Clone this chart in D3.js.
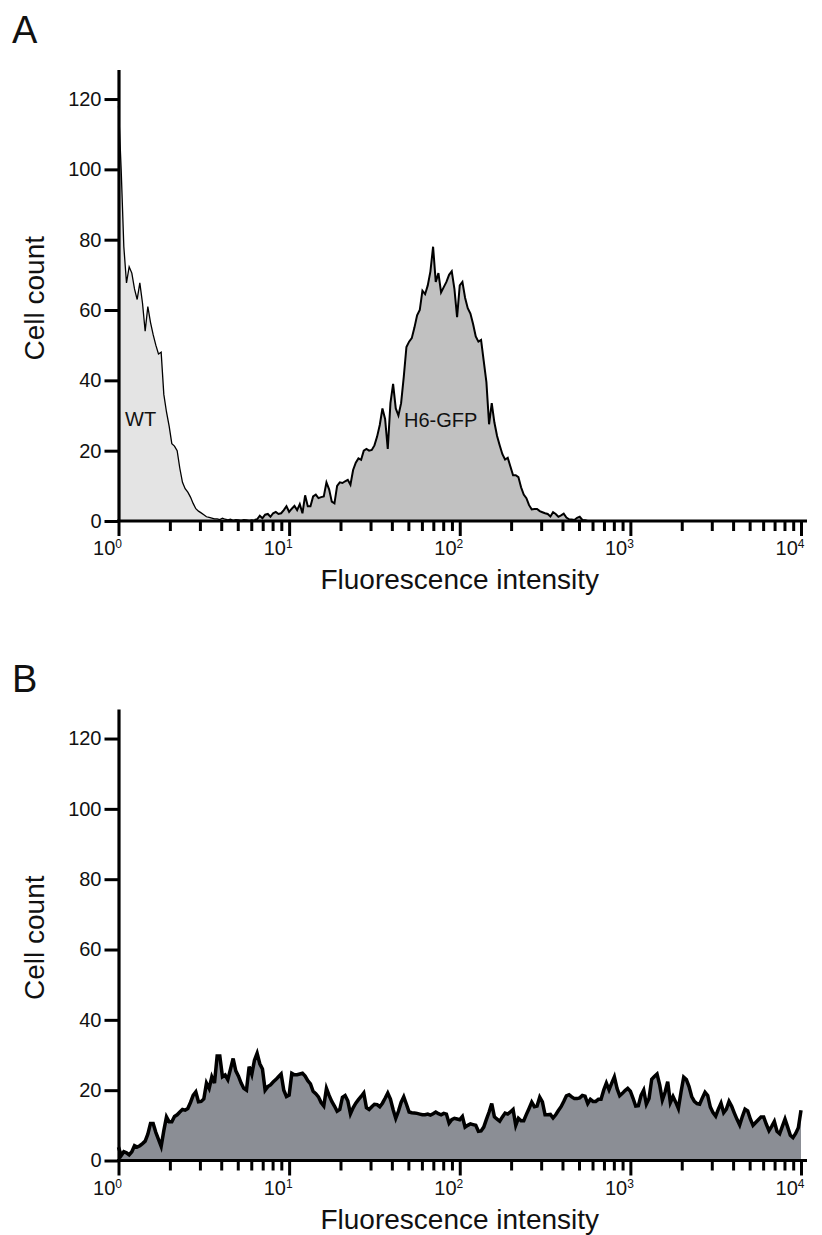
<!DOCTYPE html>
<html><head><meta charset="utf-8">
<script src="https://cdn.jsdelivr.net/npm/d3@7"></script>
<style>
body{margin:0;background:#fff}
text{font-family:"Liberation Sans",Arial,Helvetica,sans-serif;fill:#111}
</style>
</head><body>
<svg id="chart" width="822" height="1235"></svg>
<script>
// ---------- data ----------
const channelsPerDecade = 64;               // 256 channels over 4 decades
const xDomain = [1, 10000];
const yTicks = [0, 20, 40, 60, 80, 100, 120];
const xMajorTicks = [1, 10, 100, 1000, 10000];
const xTickExponents = ["0", "1", "2", "3", "4"];
const panelLabels = ["A", "B"];
const seriesNames = ["WT", "H6-GFP"];
const xTitle = "Fluorescence intensity";
const yTitle = "Cell count";

// Panel A, WT histogram (counts from channel wtStart)
const wtStart = 0;
const wtCounts = [118,100,78,67.7,72.3,70.5,66,63,67.7,62,
  54,61,56.5,53,50,47.5,48,36,31,27,
  22,21.3,20,15,11,9.2,8.2,6.8,5,3.5,
  2.8,2.3,1.8,1.2,1,0.8,0.6,0.6,0.4,0.8,
  0.5,0.3,0.5,0.2,0.4,0.3,0.2,0.4,0.3,0.2,
  0.3,0.2,0];

// Panel A, H6-GFP histogram
const gfpStart = 51;
const gfpCounts = [0.3,0.5,1.5,0.8,1.8,2,1.2,2.2,2.6,2,
  2.2,3.1,4.2,2.6,3.5,4.3,3.1,4.8,2.2,7.3,
  4.2,4.2,7,7.5,6.5,6.8,7,11,9,5.5,
  5,10,11,10.8,11.3,11.7,10.3,14.5,16.6,17.8,
  17.4,20,20.5,20,20.2,21.5,24,27.3,32,29,
  20.5,33.5,39,32,30,33.5,41,49.5,51,52,
  55,58.5,60,65.5,64.5,67,71,78,68,70.5,
  65,66.5,68,70,71,66,58,67,68,63.5,
  60.5,59,56,52.5,51,51.5,45.5,39.5,27.5,33.5,
  28,24.2,21.5,19,17.5,18,15.5,13,13,12.5,
  9.6,7.5,6.5,4.5,3.3,3.4,3.4,2.8,2.5,2.2,
  2,1.3,2.5,2,1.2,1.6,2.1,1,0.5,0.4,
  0.3,0.9,1.2,0.3,0.2,0];

// Panel B histogram
const bStart = 0;
const bCounts = [3.8,1.4,2.5,2.2,1.6,2.5,4.2,3.8,4.2,4.8,
  5.5,7.5,10.5,10.5,8,6,4,8.5,12.4,11,
  11,12.5,13,13.8,14.5,14.3,14.8,16.5,18.5,19.5,
  16.7,16.8,17.5,22,20.5,23.8,22,29.7,29.7,23.8,
  24.3,23,26,29,25.5,24,22,20.5,20,26.7,
  24.5,28.5,30.5,27.5,26,20,21,21.5,22.3,23,
  23.8,24.6,20,18.2,18.6,24.8,24.4,24.4,24.6,24.8,
  24,22.7,21.8,19.7,19,18.1,16.5,15.5,20.5,18.5,
  16.8,15.5,14,14.5,18,18.5,17,13.3,15,16.3,
  17.3,18.2,19.2,15,14.5,15.3,16,15.9,15.3,16.3,
  17.7,19.2,17.5,14.5,12,14,16.5,18.1,16,13.8,
  13.6,13.5,13.4,13.2,13,13,13.2,12.9,13.3,13.8,
  13.3,13,13.4,13.2,10.6,11.6,12,11.8,11.6,12.5,
  9.5,10,10.4,10.2,10,8.3,8.4,9.5,11.7,13.8,
  16.2,12.4,11.8,11.2,12.4,13.5,13.2,13.8,14.5,10,
  12,11.3,11.3,13.1,14.8,16.6,15.3,15.5,18,16.7,
  13,13,13.1,12.1,13,14.2,15.3,16.8,18.4,18.7,
  18.1,17.6,17.6,17.8,18.5,18.3,16.2,17.4,16.8,16.8,
  17.4,17.4,20,22,20.1,22,23.8,20.5,18.4,19.1,
  19.9,20.5,19.7,17.7,15.5,15.6,18.5,20,16,17.6,
  23.1,23.9,24.6,21.5,17.2,19.4,22.4,16.5,18.2,16.6,
  14.8,19.5,23.7,23,21,18.2,16.8,16.2,16,17.8,
  19.4,18.5,15.2,13.6,12.6,14.6,16.3,13.6,14.6,16.8,
  15.4,13.5,11.7,10.1,12.5,14.6,14.1,11.8,10,10.8,
  11.6,12.4,12.4,10.3,8.5,9.7,11.1,8.3,7.6,9.7,
  11.8,9.5,7.2,6.5,7.7,9.3,14.3];

// ---------- drawing ----------
const svg = d3.select("#chart");
const FONT = "'Liberation Sans', Arial, Helvetica, sans-serif";

function toPoints(start, counts) {
  return counts.map((c, i) => ({ v: Math.pow(10, (start + i) / channelsPerDecade), c }));
}

function drawPanel(offsetY, label, labelBaseline, series) {
  const g = svg.append("g").attr("transform", `translate(0,${offsetY})`);
  const x = d3.scaleLog().domain(xDomain).range([118.5, 801]);
  const y = d3.scaleLinear().domain([0, 128.4]).range([521, 69.5]);

  // data
  series.forEach(s => {
    const pts = toPoints(s.start, s.counts);
    const area = d3.area().x(d => x(d.v)).y0(y(0)).y1(d => y(d.c));
    const line = d3.line().x(d => x(d.v)).y(d => y(d.c));
    g.append("path").datum(pts).attr("d", area).attr("fill", s.fill).attr("stroke", "none");
    g.append("path").datum(pts).attr("d", line).attr("fill", "none")
      .attr("stroke", "#000").attr("stroke-width", s.sw).attr("stroke-linejoin", "miter");
    if (s.name) {
      g.append("text").attr("x", s.lx).attr("y", s.ly).attr("font-size", 20)
        .attr("font-family", FONT).text(s.name);
    }
  });

  // y axis
  const yAxis = g.append("g").attr("transform", `translate(${x(1)},0)`)
    .call(d3.axisLeft(y).tickValues(yTicks).tickSize(14).tickSizeOuter(0).tickPadding(3));
  yAxis.select(".domain").attr("stroke", "#000").attr("stroke-width", 3.2);
  yAxis.selectAll(".tick line").attr("stroke", "#000").attr("stroke-width", 3);
  yAxis.selectAll(".tick text").attr("font-size", 20).attr("font-family", FONT).attr("fill", "#111");

  // x axis
  const allTicks = [];
  for (let d = 0; d < 4; d++) for (let m = 1; m <= 9; m++) allTicks.push(m * Math.pow(10, d));
  allTicks.push(10000);
  const xAxis = g.append("g").attr("transform", `translate(0,${y(0)})`)
    .call(d3.axisBottom(x).tickValues(allTicks).tickSize(10).tickSizeOuter(0).tickFormat(""));
  xAxis.select(".domain").remove();
  xAxis.selectAll(".tick line").attr("stroke", "#000").attr("stroke-width", 3)
    .attr("y2", d => xMajorTicks.includes(d) ? 15 : 10);
  xAxis.append("line").attr("x1", x(1) - 1.5).attr("x2", x(10000) + 6)
    .attr("y1", 0).attr("y2", 0).attr("stroke", "#000").attr("stroke-width", 3.2);

  xMajorTicks.forEach((t, i) => {
    const tx = x(t);
    const txt = xAxis.append("text").attr("y", 34).attr("font-family", FONT)
      .attr("x", tx - 11).attr("font-size", 20).attr("fill", "#111");
    txt.append("tspan").text("10");
    txt.append("tspan").attr("font-size", 12).attr("dy", -7).text(xTickExponents[i]);
  });

  // titles
  g.append("text").attr("x", (x(1) + x(10000)) / 2).attr("y", 589)
    .attr("text-anchor", "middle").attr("font-size", 28).attr("font-family", FONT).text(xTitle);
  g.append("text").attr("transform", `translate(43.5,${(y(0) + y(128.4)) / 2 + 3}) rotate(-90)`)
    .attr("text-anchor", "middle").attr("font-size", 28).attr("font-family", FONT).text(yTitle);

  // panel label
  svg.append("text").attr("x", 12).attr("y", labelBaseline).attr("font-size", 38)
    .attr("font-family", FONT).text(label);
}

drawPanel(0, panelLabels[0], 43, [
  { start: gfpStart, counts: gfpCounts, fill: "#c1c1c1", sw: 2, name: seriesNames[1], lx: 404, ly: 426.5 },
  { start: wtStart, counts: wtCounts, fill: "#e4e4e4", sw: 1.3, name: seriesNames[0], lx: 125, ly: 426 }
]);
drawPanel(639.5, panelLabels[1], 692, [
  { start: bStart, counts: bCounts, fill: "#8b8e95", sw: 3.5, name: null }
]);
</script>
</body></html>
